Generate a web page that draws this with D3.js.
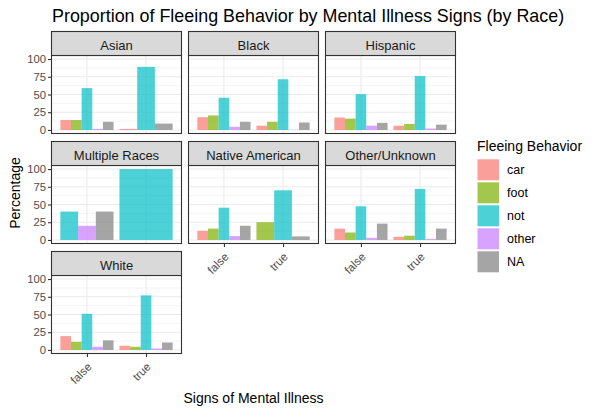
<!DOCTYPE html>
<html><head><meta charset="utf-8">
<script src="https://cdn.jsdelivr.net/npm/d3@7"></script>
<style>body{margin:0;background:#fff} svg{display:block;font-family:"Liberation Sans",Arial,sans-serif}</style>
</head><body><svg id="c" width="600" height="413"></svg>
<script>
// ---- data ----
const races = ["Asian","Black","Hispanic","Multiple Races","Native American","Other/Unknown","White"];
const illness = ["false","true"];
const fleeing = ["car","foot","not","other","NA"];
const fleeColors = ["#F8766D","#7CAE00","#00BFC4","#C77CFF","#7F7F7F"];
const yTicks = [0,25,50,75,100];
// percentages per race: [signs=false, signs=true], order car, foot, not, other, NA (null = absent)
const asian    = [[14,14,59,1.5,11.5],[1.5,null,89,null,9]];
const black    = [[18,20.5,45.5,4.5,11.5],[6,11.5,71.5,0.3,10.5]];
const hispanic = [[17.5,16,50.5,6,10],[6,8.5,76,2,7.5]];
const multiple = [[null,null,40,20,40],[null,null,100,null,null]];
const nativeAm = [[13,16,45.5,5.5,20],[null,25,70,null,5]];
const otherUnk = [[16,10.5,47.5,3,23],[4.5,6,72,1.5,16]];
const white    = [[19.5,11.5,51,4.5,13.5],[6,4.5,77,2,10.5]];
const raceValues = [asian,black,hispanic,multiple,nativeAm,otherUnk,white];

// ---- layout ----
const svg = d3.select("#c");
const colX=[51.5,188.5,325.5], panelW=130, stripTop=[31.5,141.5,251.5], stripH=24, panelH=78;
const border="#333333";
const nCols=3, lastRowOfCol=[2,1,1];

svg.append("text").attr("x",52).attr("y",22).attr("font-size",17.9).attr("fill","#000")
  .text("Proportion of Fleeing Behavior by Mental Illness Signs (by Race)");

races.forEach((race,i)=>{
  const col=i%nCols,row=Math.floor(i/nCols);
  const x0=colX[col], sTop=stripTop[row], top=sTop+stripH, bottom=top+panelH;
  const g=svg.append("g");
  const y=d3.scaleLinear().domain([-5,105]).range([bottom,top]);
  const x=d3.scalePoint().domain(illness).range([x0,x0+panelW]).padding(0.6);
  const gw=x.step()*0.9;
  g.append("rect").attr("x",x0).attr("y",top).attr("width",panelW).attr("height",panelH).attr("fill","#fff");
  // minor grid
  const minor=d3.range(12.5,100,25);
  g.selectAll(".mn").data(minor).join("line").attr("x1",x0).attr("x2",x0+panelW)
    .attr("y1",d=>y(d)).attr("y2",d=>y(d)).attr("stroke","#EBEBEB").attr("stroke-width",0.55);
  g.selectAll(".mj").data(yTicks).join("line").attr("x1",x0).attr("x2",x0+panelW)
    .attr("y1",d=>y(d)).attr("y2",d=>y(d)).attr("stroke","#EBEBEB").attr("stroke-width",1.1);
  g.selectAll(".mx").data(illness).join("line").attr("y1",top).attr("y2",bottom)
    .attr("x1",d=>x(d)).attr("x2",d=>x(d)).attr("stroke","#EBEBEB").attr("stroke-width",1.1);
  // bars
  illness.forEach((grp,gi)=>{
    const vals=raceValues[i][gi];
    const present=fleeing.map((f,k)=>({k,v:vals[k]})).filter(d=>d.v!==null);
    const bw=gw/present.length;
    g.selectAll(".b"+gi).data(present).join("rect")
      .attr("x",(d,j)=>x(grp)-gw/2+j*bw).attr("width",bw)
      .attr("y",d=>y(d.v)).attr("height",d=>y(0)-y(d.v))
      .attr("fill",d=>fleeColors[d.k]).attr("fill-opacity",0.7);
  });
  // panel border
  g.append("rect").attr("x",x0).attr("y",top).attr("width",panelW).attr("height",panelH)
    .attr("fill","none").attr("stroke",border).attr("stroke-width",1.1);
  // strip
  g.append("rect").attr("x",x0).attr("y",sTop).attr("width",panelW).attr("height",stripH)
    .attr("fill","#D9D9D9").attr("stroke",border).attr("stroke-width",1.1);
  g.append("text").attr("x",x0+panelW/2).attr("y",sTop+18).attr("text-anchor","middle")
    .attr("font-size",13).attr("fill","#1A1A1A").text(race);
  // y axis
  if(col===0){
    const ax=g.append("g").attr("transform",`translate(${x0},0)`)
      .call(d3.axisLeft(y).tickValues(yTicks).tickSize(3.5).tickPadding(2));
    ax.select(".domain").remove();
    ax.selectAll("line").attr("stroke",border).attr("stroke-width",1.1);
    ax.selectAll("text").attr("font-size",11.3).attr("fill","#4D4D4D").attr("font-family","Liberation Sans, Arial, sans-serif");
  }
  // x axis
  if(row===lastRowOfCol[col]){
    const ax=g.append("g").attr("transform",`translate(0,${bottom})`)
      .call(d3.axisBottom(x).tickSize(3.5).tickPadding(2));
    ax.select(".domain").remove();
    ax.selectAll("line").attr("stroke",border).attr("stroke-width",1.1);
    ax.selectAll("text").attr("font-size",11.5).attr("fill","#4D4D4D").attr("font-family","Liberation Sans, Arial, sans-serif")
      .attr("text-anchor","end").attr("dy",null).attr("y",0)
      .attr("transform","translate(5,14) rotate(-45)");
  }
});

// axis titles
svg.append("text").attr("transform","translate(20,193) rotate(-90)").attr("text-anchor","middle")
  .attr("font-size",14).attr("fill","#000").text("Percentage");
svg.append("text").attr("x",253.5).attr("y",402.5).attr("text-anchor","middle")
  .attr("font-size",14).attr("fill","#000").text("Signs of Mental Illness");

// legend
const lg=svg.append("g").attr("transform","translate(477,0)");
lg.append("text").attr("x",0).attr("y",151).attr("font-size",14).attr("fill","#000").text("Fleeing Behavior");
const items=lg.selectAll(".li").data(fleeing).join("g").attr("transform",(d,k)=>`translate(0,${158.5+k*23})`);
items.append("rect").attr("x",0.5).attr("y",0.8).attr("width",21.5).attr("height",21)
  .attr("fill",(d,k)=>fleeColors[k]).attr("fill-opacity",0.7);
items.append("text").attr("x",30).attr("y",11.5).attr("dy","0.35em").attr("font-size",12.5).attr("fill","#000").text(d=>d);
</script></body></html>
